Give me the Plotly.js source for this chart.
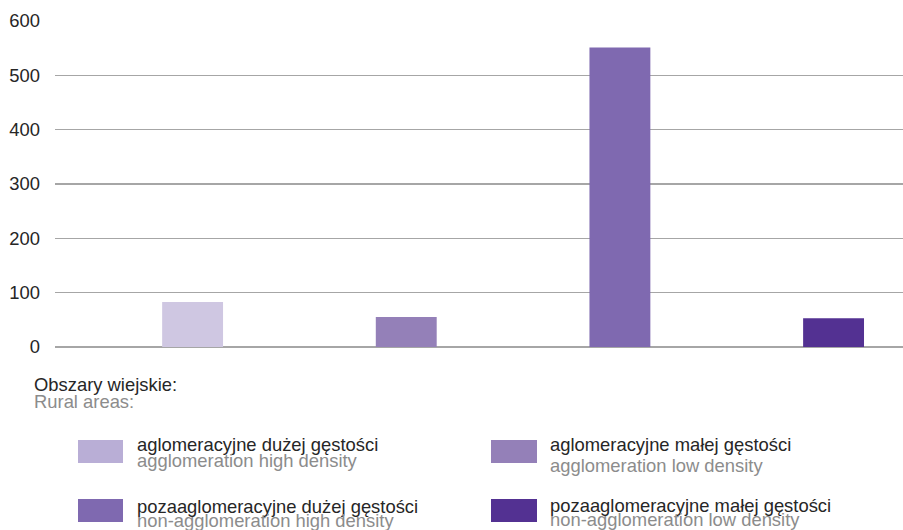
<!DOCTYPE html>
<html>
<head>
<meta charset="utf-8">
<script src="https://cdn.plot.ly/plotly-3.0.1.min.js"></script>
<style>html,body{margin:0;padding:0;background:#fff;}#chart{width:903px;height:530px;}</style>
</head>
<body>
<div id="chart"></div>
<script>
// ---- data ----
const categories = [
  "aglomeracyjne dużej gęstości",
  "aglomeracyjne małej gęstości",
  "pozaaglomeracyjne dużej gęstości",
  "pozaaglomeracyjne małej gęstości"
];
const categoriesEn = [
  "agglomeration high density",
  "agglomeration low density",
  "non-agglomeration high density",
  "non-agglomeration low density"
];
const values = [83, 55, 551, 53];
const barColors = ["#cfc7e2", "#9480b8", "#7f69b0", "#533192"];
const swatchColors = ["#b9aed6", "#9480b8", "#7f69b0", "#533192"];
const yTicks = [0, 100, 200, 300, 400, 500, 600];
const legendTitle = "Obszary wiejskie:";
const legendTitleEn = "Rural areas:";

// ---- layout helpers (pixel -> paper) ----
const W = 903, H = 530;
const M = {l: 55, r: 0, t: 21, b: 183};
const pw = W - M.l - M.r, ph = H - M.t - M.b;
const px = x => (x - M.l) / pw;
const py = y => (H - M.b - y) / ph;

const font = "Liberation Sans, Arial, sans-serif";
const dark = "#262626", gray = "#8c8c8c";
const TS = 18.4; // text size

const twoLine = (a, b) =>
  '<span style="font-size:' + TS + 'px;color:' + dark + '">' + a + '</span><br>' +
  '<span style="font-size:' + TS + 'px;color:' + gray + '">' + b + '</span>';

const trace = {
  type: "bar",
  x: categories,
  y: values,
  marker: {color: barColors, line: {width: 0}},
  width: 0.285,
  hoverinfo: "x+y"
};

// legend block positions (pixels); base = font size controlling line spacing
const swatchPos = [
  {x0: 78, x1: 123, y0: 440, y1: 463, tx: 135, ty: 453, base: 12},
  {x0: 491, x1: 537, y0: 440, y1: 463, tx: 548, ty: 455, base: 16},
  {x0: 78, x1: 123, y0: 499, y1: 522, tx: 135, ty: 513, base: 11},
  {x0: 491, x1: 537, y0: 499, y1: 522, tx: 548, ty: 512, base: 10.5}
];

const shapes = [];
const annotations = [
  {xref: "paper", yref: "paper", x: px(32), y: py(393), xanchor: "left", yanchor: "middle",
   text: twoLine(legendTitle, legendTitleEn), showarrow: false, align: "left",
   font: {family: font, size: 13, color: dark}}
];
categories.forEach((c, i) => {
  const p = swatchPos[i];
  shapes.push({type: "rect", xref: "paper", yref: "paper",
    x0: px(p.x0), x1: px(p.x1), y0: py(p.y1), y1: py(p.y0),
    fillcolor: swatchColors[i], line: {width: 0}});
  annotations.push({xref: "paper", yref: "paper", x: px(p.tx), y: py(p.ty),
    xanchor: "left", yanchor: "middle", align: "left",
    text: twoLine(c, categoriesEn[i]), showarrow: false,
    font: {family: font, size: p.base, color: dark}});
});

const layout = {
  width: W, height: H,
  margin: M,
  paper_bgcolor: "#ffffff",
  plot_bgcolor: "#ffffff",
  showlegend: false,
  font: {family: font, size: 18, color: dark},
  xaxis: {
    type: "category",
    range: [-0.644, 3.325],
    showticklabels: false,
    showgrid: false,
    zeroline: false,
    showline: false,
    ticks: ""
  },
  yaxis: {
    range: [0, 600],
    tickvals: yTicks,
    ticktext: yTicks.map(String),
    showgrid: true,
    gridcolor: "#a6a6a6",
    gridwidth: 1.5,
    zeroline: true,
    zerolinecolor: "#a6a6a6",
    zerolinewidth: 2,
    showline: false,
    ticks: "",
    ticklabelstandoff: 14,
    tickfont: {family: font, size: 18.4, color: dark}
  },
  shapes: shapes,
  annotations: annotations
};

Plotly.newPlot("chart", [trace], layout, {displayModeBar: false, staticPlot: true});
</script>
</body>
</html>
